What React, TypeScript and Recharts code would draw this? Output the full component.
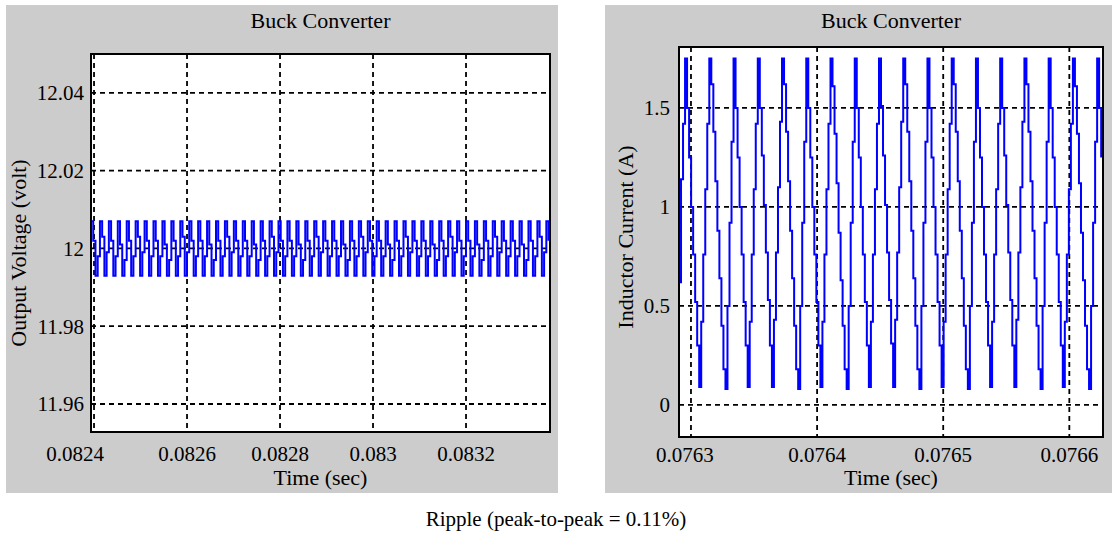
import { CartesianGrid, Label, Line, LineChart, ReferenceArea, XAxis, YAxis } from 'recharts';

const FONT = "'Liberation Serif', 'Times New Roman', serif";

// left plot: output voltage
const voltageTicks = [11.96, 11.98, 12, 12.02, 12.04];
const voltageTickLabels = ['11.96', '11.98', '12', '12.02', '12.04'];
const voltageTimeTicks = [0.0824, 0.0826, 0.0828, 0.083, 0.0832];
const voltageTimeLabels = ['0.0824', '0.0826', '0.0828', '0.083', '0.0832'];
const voltageDomain = [11.9528, 12.05];
const voltageTimeDomain = [0.0823935, 0.0833806];
const voltageStart = 0.0823935; // time of first sample (s)
const voltageStep = 4.8e-6; // sample interval (s)
// ripple around 12 V in mV, two switching periods per row
const voltageRippleMv = [
  7, 2, -7, -2, 7, 3, -7, -1,
  7, 2, -7, -2, 7, 1, -7, -3,
  7, 2, -7, -2, 7, 3, -7, -1,
  7, 2, -7, -2, 7, 2, -7, -2,
  7, 1, -7, -3, 7, 2, -7, -2,
  7, 3, -7, -1, 7, 2, -7, -2,
  7, 2, -7, -2, 7, 1, -7, -3,
  7, 2, -7, -2, 7, 3, -7, -1,
  7, 2, -7, -2, 7, 2, -7, -2,
  7, 1, -7, -3, 7, 2, -7, -2,
  7, 3, -7, -1, 7, 2, -7, -2,
  7, 2, -7, -2, 7, 1, -7, -3,
  7, 2, -7, -2, 7, 3, -7, -1,
  7, 2, -7, -2, 7, 2, -7, -2,
  7, 1, -7, -3, 7, 2, -7, -2,
  7, 3, -7, -1, 7, 2, -7, -2,
  7, 2, -7, -2, 7, 1, -7, -3,
  7, 2, -7, -2, 7, 3, -7, -1,
  7, 2, -7, -2, 7, 2, -7, -2,
  7, 1, -7, -3, 7, 2, -7, -2,
  7, 3, -7, -1, 7, 2, -7, -2,
  7, 2, -7, -2, 7, 1, -7, -3,
  7, 2, -7, -2, 7, 3, -7, -1,
  7, 2, -7, -2, 7, 2, -7, -2,
  7, 1, -7, -3, 7, 2, -7, -2,
  7, 3, -7, -1, 7, 2,
];

// right plot: inductor current
const currentTicks = [0, 0.5, 1, 1.5];
const currentTickLabels = ['0', '0.5', '1', '1.5'];
const currentTimeTicks = [0.0763, 0.0764, 0.0765, 0.0766];
const currentTimeLabels = ['0.0763', '0.0764', '0.0765', '0.0766'];
const currentDomain = [-0.162, 1.808];
const currentTimeDomain = [0.0762905, 0.0766267];
const currentStart = 0.0762905;
const currentStep = 1.6017e-6;
// inductor current samples (A), one switching period per row
const inductorCurrent = [
  0.62, 1.14, 1.42,
  1.75, 1.50, 1.25, 1.00, 0.76, 0.52, 0.30, 0.09, 0.42, 0.76, 1.09, 1.42,
  1.75, 1.62, 1.38, 1.13, 0.88, 0.64, 0.40, 0.18, 0.08, 0.50, 0.92, 1.33,
  1.75, 1.50, 1.25, 1.00, 0.76, 0.52, 0.30, 0.09, 0.42, 0.76, 1.09, 1.42,
  1.75, 1.50, 1.26, 1.01, 0.77, 0.53, 0.30, 0.09, 0.43, 0.77, 1.10, 1.43,
  1.75, 1.62, 1.38, 1.13, 0.88, 0.64, 0.40, 0.18, 0.08, 0.50, 0.92, 1.33,
  1.75, 1.50, 1.25, 1.00, 0.76, 0.52, 0.30, 0.09, 0.42, 0.76, 1.09, 1.42,
  1.75, 1.61, 1.37, 1.12, 0.87, 0.63, 0.40, 0.18, 0.08, 0.50, 0.92, 1.33,
  1.75, 1.50, 1.25, 1.00, 0.76, 0.52, 0.30, 0.09, 0.42, 0.76, 1.09, 1.42,
  1.75, 1.51, 1.26, 1.01, 0.77, 0.53, 0.31, 0.09, 0.43, 0.77, 1.10, 1.43,
  1.75, 1.62, 1.38, 1.13, 0.88, 0.64, 0.40, 0.18, 0.08, 0.50, 0.92, 1.33,
  1.75, 1.50, 1.25, 1.00, 0.76, 0.52, 0.30, 0.09, 0.42, 0.76, 1.09, 1.42,
  1.75, 1.62, 1.38, 1.13, 0.88, 0.64, 0.40, 0.18, 0.08, 0.50, 0.92, 1.33,
  1.75, 1.50, 1.25, 1.00, 0.76, 0.52, 0.30, 0.09, 0.42, 0.76, 1.09, 1.42,
  1.75, 1.50, 1.26, 1.01, 0.77, 0.53, 0.30, 0.09, 0.43, 0.77, 1.10, 1.43,
  1.75, 1.62, 1.38, 1.13, 0.88, 0.64, 0.40, 0.18, 0.08, 0.50, 0.92, 1.33,
  1.75, 1.50, 1.25, 1.00, 0.76, 0.52, 0.30, 0.09, 0.42, 0.76, 1.09, 1.42,
  1.75, 1.61, 1.37, 1.12, 0.87, 0.63, 0.40, 0.18, 0.08, 0.50, 0.92, 1.33,
  1.75, 1.50, 1.25,
];

const voltageData = voltageRippleMv.map((mv, i) => ({ t: voltageStart + i * voltageStep, v: 12 + mv / 1000 }));
const currentData = inductorCurrent.map((a, i) => ({ t: currentStart + i * currentStep, a }));

function TimeTick(props: any) {
  const { x, y, payload, ticks, labels, firstShift } = props;
  const i = ticks.indexOf(payload.value);
  return (
    <text x={x + (i === 0 ? firstShift : 0)} y={y} dy="0.71em" textAnchor="middle" fontSize={21} fontFamily={FONT} fill="#000">
      {labels[i]}
    </text>
  );
}

function SideLabel({ x, y, text }: { x: number; y: number; text: string }) {
  return (
    <text x={x} y={y} transform={`rotate(-90 ${x} ${y})`} textAnchor="middle" dominantBaseline="central" fontSize={22} fontFamily={FONT} fill="#000">
      {text}
    </text>
  );
}

const frame = { stroke: '#000', strokeWidth: 2 };
const tickStyle = { fontSize: 21, fill: '#000', fontFamily: FONT };

const panel = (left: number, width: number): React.CSSProperties => ({
  position: 'absolute', left, top: 5, width, height: 488, background: '#cccccc',
});

const titleStyle = (left: number, width: number): React.CSSProperties => ({
  position: 'absolute', left, width, top: 3, textAlign: 'center', fontFamily: FONT, fontSize: 22, lineHeight: '26px', color: '#000',
});

export default function App() {
  return (
    <div style={{ position: 'absolute', left: 0, top: 0, width: 1112, height: 533, background: '#fff', overflow: 'hidden' }}>
      <div style={panel(6, 552)}>
        <div style={titleStyle(85, 459)}>Buck Converter</div>
        <LineChart width={552} height={488} data={voltageData} margin={{ top: 49, right: 8, bottom: 0, left: 0 }}>
          <CartesianGrid stroke="#000" strokeWidth={1.8} strokeDasharray="5 4" fill="#fff" fillOpacity={1} />
          <XAxis
            dataKey="t" type="number" domain={voltageTimeDomain} ticks={voltageTimeTicks} allowDataOverflow
            height={61} tickLine={false} tickSize={5} tickMargin={9} axisLine={frame}
            tick={(p: any) => <TimeTick {...p} ticks={voltageTimeTicks} labels={voltageTimeLabels} firstShift={-19} />}
          >
            <Label value="Time (sec)" position="insideBottom" offset={8} style={{ fontSize: 22, fontFamily: FONT, fill: '#000' }} />
          </XAxis>
          <YAxis
            type="number" domain={voltageDomain} ticks={voltageTicks} allowDataOverflow width={85}
            tickLine={false} tickSize={5} tickMargin={2} axisLine={frame} tick={tickStyle}
            tickFormatter={(v: number) => voltageTickLabels[voltageTicks.indexOf(v)]}
          >
            <Label content={() => <SideLabel x={12} y={248} text="Output Voltage (volt)" />} />
          </YAxis>
          <Line type="stepAfter" dataKey="v" stroke="#0000ff" strokeWidth={2} dot={false} activeDot={false} isAnimationActive={false} />
          <ReferenceArea
            x1={voltageTimeDomain[0]} x2={voltageTimeDomain[1]} y1={voltageDomain[0]} y2={voltageDomain[1]}
            fill="none" stroke="#000" strokeWidth={2} ifOverflow="visible"
          />
        </LineChart>
      </div>

      <div style={panel(605, 507)}>
        <div style={titleStyle(74, 424)}>Buck Converter</div>
        <LineChart width={507} height={488} data={currentData} margin={{ top: 42, right: 9, bottom: 0, left: 0 }}>
          <CartesianGrid stroke="#000" strokeWidth={1.8} strokeDasharray="5 4" fill="#fff" fillOpacity={1} />
          <XAxis
            dataKey="t" type="number" domain={currentTimeDomain} ticks={currentTimeTicks} allowDataOverflow
            height={56} tickLine={false} tickSize={5} tickMargin={5} axisLine={frame}
            tick={(p: any) => <TimeTick {...p} ticks={currentTimeTicks} labels={currentTimeLabels} firstShift={-6} />}
          >
            <Label value="Time (sec)" position="insideBottom" offset={8} style={{ fontSize: 22, fontFamily: FONT, fill: '#000' }} />
          </XAxis>
          <YAxis
            type="number" domain={currentDomain} ticks={currentTicks} allowDataOverflow width={74}
            tickLine={false} tickSize={5} tickMargin={4} axisLine={frame} tick={tickStyle}
            tickFormatter={(v: number) => currentTickLabels[currentTicks.indexOf(v)]}
          >
            <Label content={() => <SideLabel x={20} y={232} text="Inductor Current (A)" />} />
          </YAxis>
          <Line type="stepAfter" dataKey="a" stroke="#0000ff" strokeWidth={2} dot={false} activeDot={false} isAnimationActive={false} />
          <ReferenceArea
            x1={currentTimeDomain[0]} x2={currentTimeDomain[1]} y1={currentDomain[0]} y2={currentDomain[1]}
            fill="none" stroke="#000" strokeWidth={2} ifOverflow="visible"
          />
        </LineChart>
      </div>

      <div style={{ position: 'absolute', left: 0, top: 507, width: 1112, textAlign: 'center', fontFamily: FONT, fontSize: 21, lineHeight: '24px', color: '#000' }}>
        Ripple (peak-to-peak = 0.11%)
      </div>
    </div>
  );
}
